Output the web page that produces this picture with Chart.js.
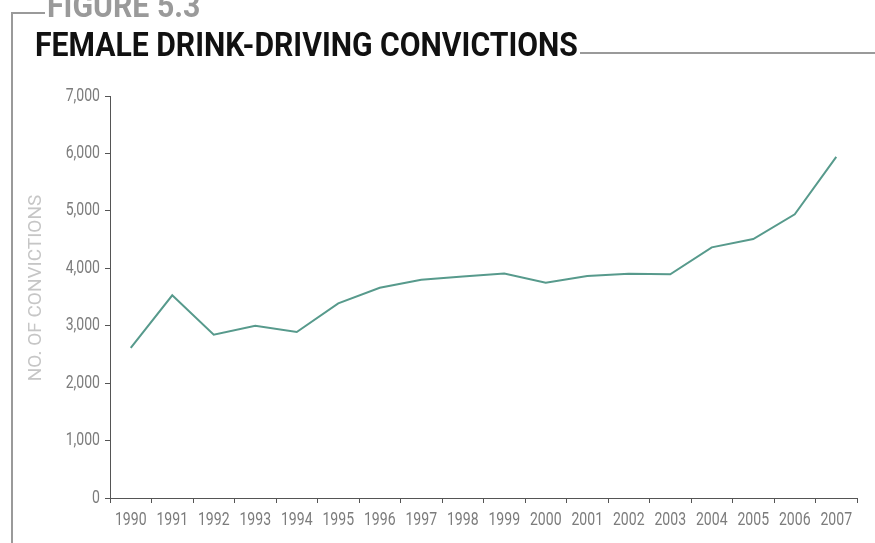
<!DOCTYPE html>
<html>
<head>
<meta charset="utf-8">
<script src="https://cdn.jsdelivr.net/npm/chart.js@4/dist/chart.umd.min.js"></script>
<style>
  html, body { margin: 0; padding: 0; background: #fff; }
  #wrap { position: relative; width: 875px; height: 543px; overflow: hidden; }
  #chart { position: absolute; left: 0; top: 0; }
  .frame-v { position: absolute; left: 11px; top: 12px; width: 2px; height: 540px; background: #9a9a9a; }
  .frame-h { position: absolute; left: 11px; top: 12px; width: 34px; height: 2px; background: #9a9a9a; }
  .rule { position: absolute; left: 580px; top: 52px; width: 295px; height: 2px; background: #9a9a9a; }
  .fig, .title {
    position: absolute; margin: 0; white-space: nowrap; transform-origin: 0 0;
    font-family: Roboto, "Liberation Sans", sans-serif;
    font-weight: bold; font-size: 34px; line-height: 34px;
  }
  .fig { left: 47px; top: -12px; color: #9a9a9a; }
  .title { left: 35px; top: 27px; color: #111; }
</style>
</head>
<body>
<div id="wrap">
  <canvas id="chart" width="875" height="543"></canvas>
  <div class="frame-v"></div>
  <div class="frame-h"></div>
  <div class="fig" id="fig">FIGURE 5.3</div>
  <div class="title" id="title">FEMALE DRINK-DRIVING CONVICTIONS</div>
  <div class="rule"></div>
</div>
<script>
  // ── Data ──
  var years = ['1990','1991','1992','1993','1994','1995','1996','1997','1998',
               '1999','2000','2001','2002','2003','2004','2005','2006','2007'];
  var convictions = [2615, 3530, 2845, 3000, 2890, 3390, 3660, 3800, 3855,
                     3910, 3750, 3865, 3905, 3895, 4365, 4510, 4940, 5940];
  var yTicks = [0, 1000, 2000, 3000, 4000, 5000, 6000, 7000];
  var yTitle = 'NO. OF CONVICTIONS';

  var axisColor = '#555';
  var labelColor = '#7c7c7c';
  var labelFont = '18px Roboto, "Liberation Sans", sans-serif';
  var squeeze = 0.78;   // the original uses a condensed face

  // ── Condensed heading: squeeze to the original width ──
  function fitWidth(id, w) {
    var el = document.getElementById(id);
    el.style.transform = 'scaleX(' + (w / el.offsetWidth) + ')';
  }
  fitWidth('title', 543);
  fitWidth('fig', 153);

  function fmt(v) { return Number(v).toLocaleString('en-US'); }

  // draws tick labels and the y title squeezed horizontally
  var narrowText = {
    id: 'narrowText',
    afterDraw: function(chart) {
      var ctx = chart.ctx;
      var xs = chart.scales.x, ys = chart.scales.y;
      ctx.save();
      ctx.font = labelFont;
      ctx.fillStyle = labelColor;

      ys.ticks.forEach(function(t, i) {
        var py = ys.getPixelForTick(i);
        ctx.save();
        ctx.translate(100, py);
        ctx.scale(squeeze, 1);
        ctx.textAlign = 'right';
        ctx.textBaseline = 'middle';
        ctx.fillText(fmt(t.value), 0, 0);
        ctx.restore();
      });

      xs.ticks.forEach(function(t, i) {
        var px = xs.getPixelForTick(i);
        ctx.save();
        ctx.translate(px, 525);
        ctx.scale(squeeze, 1);
        ctx.textAlign = 'center';
        ctx.textBaseline = 'alphabetic';
        ctx.fillText(years[i], 0, 0);
        ctx.restore();
      });

      ctx.translate(41, 288);
      ctx.rotate(-Math.PI / 2);
      ctx.font = '19px Roboto, "Liberation Sans", sans-serif';
      ctx.fillStyle = '#c6c6c6';
      ctx.textAlign = 'center';
      ctx.textBaseline = 'alphabetic';
      ctx.fillText(yTitle, 0, 0);
      ctx.restore();
    }
  };

  new Chart(document.getElementById('chart'), {
    type: 'line',
    data: {
      labels: years,
      datasets: [{
        label: 'Convictions',
        data: convictions,
        borderColor: '#579a8c',
        borderWidth: 2,
        pointRadius: 0,
        tension: 0,
        fill: false
      }]
    },
    options: {
      responsive: false,
      devicePixelRatio: 1,
      animation: false,
      layout: { padding: { top: 96, right: 18, bottom: 0, left: 0 } },
      plugins: { legend: { display: false }, tooltip: { enabled: false } },
      scales: {
        x: {
          offset: true,
          grid: { offset: true, drawOnChartArea: false, tickLength: 5, color: axisColor },
          border: { color: axisColor, width: 1 },
          ticks: { color: 'rgba(0,0,0,0)', maxRotation: 0, autoSkip: false },
          afterFit: function(s) { s.height = 45; }
        },
        y: {
          min: 0,
          max: 7000,
          afterBuildTicks: function(s) { s.ticks = yTicks.map(function(v) { return { value: v }; }); },
          grid: { drawOnChartArea: false, tickLength: 5, color: axisColor },
          border: { color: axisColor, width: 1 },
          ticks: { color: 'rgba(0,0,0,0)', callback: fmt },
          afterFit: function(s) { s.width = 110; }
        }
      }
    },
    plugins: [narrowText]
  });
</script>
</body>
</html>
